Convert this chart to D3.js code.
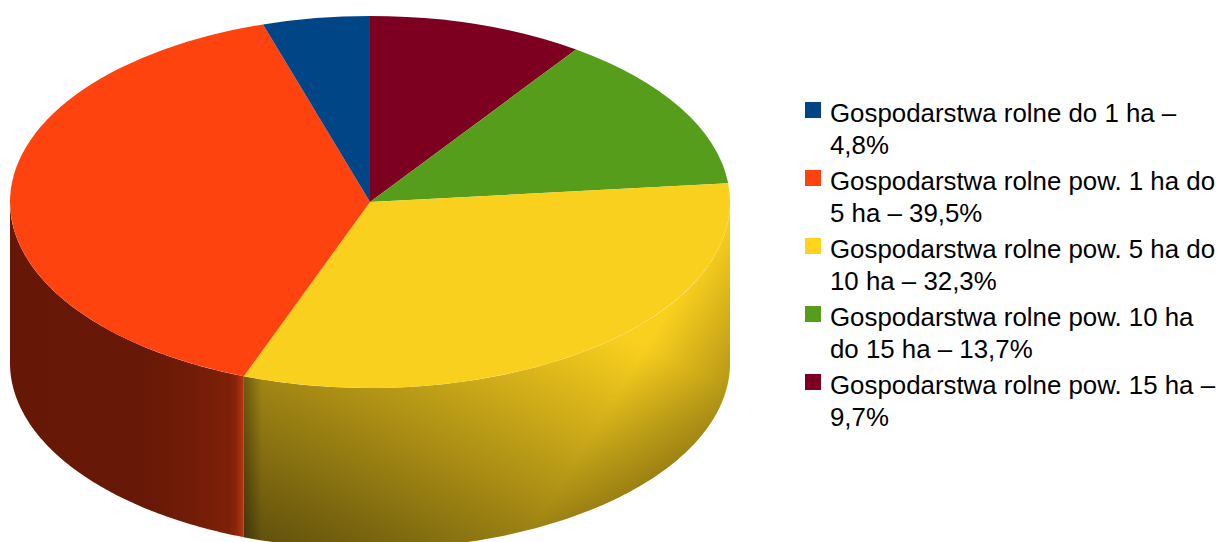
<!DOCTYPE html>
<html><head><meta charset="utf-8">
<script src="https://cdn.jsdelivr.net/npm/d3@7/dist/d3.min.js"></script>
<style>html,body{margin:0;padding:0;background:#fff}svg{display:block}</style></head>
<body><svg id="c" width="1218" height="542"></svg>
<script>
const categories = ["Gospodarstwa rolne do 1 ha", "Gospodarstwa rolne pow. 1 ha do 5 ha", "Gospodarstwa rolne pow. 5 ha do 10 ha", "Gospodarstwa rolne pow. 10 ha do 15 ha", "Gospodarstwa rolne pow. 15 ha"];
const shares = [4.8, 39.5, 32.3, 13.7, 9.7];
const legendLines = [
  ["Gospodarstwa rolne do 1 ha –", "4,8%"],
  ["Gospodarstwa rolne pow. 1 ha do", "5 ha – 39,5%"],
  ["Gospodarstwa rolne pow. 5 ha do", "10 ha – 32,3%"],
  ["Gospodarstwa rolne pow. 10 ha", "do 15 ha – 13,7%"],
  ["Gospodarstwa rolne pow. 15 ha –", "9,7%"]
];
const colors = ["#004586", "#ff420e", "#ffd320", "#579d1c", "#7e0021"];
const topColors = ["#004586", "#fe430f", "#fad01e", "#579d1c", "#7e0021"];

const W = 1218, H = 542, cx = 370, cy = 202, rx = 360, ry = 186, depth = 161;
const svg = d3.select("#c");
const defs = svg.append("defs");

const px = d3.scaleLinear().domain([-1, 1]).range([cx - rx, cx + rx]);
const py = d3.scaleLinear().domain([-1, 1]).range([cy - ry, cy + ry]);

const rows = categories.map((c, i) => ({c, v: shares[i], i})).reverse();
const slices = d3.pie().sort(null).value(d => d.v)(rows);

function grad(id, x1, y1, x2, y2, stops) {
  const g = defs.append("linearGradient").attr("id", id).attr("gradientUnits", "userSpaceOnUse")
    .attr("x1", x1).attr("y1", y1).attr("x2", x2).attr("y2", y2);
  stops.forEach(([o, c, a]) => g.append("stop").attr("offset", o).attr("stop-color", c).attr("stop-opacity", a === undefined ? 1 : a));
}
grad("orangeWall", 10, 0, 246, 0, [
  [0, "#671706"], [0.56, "#681807"], [0.75, "#701c07"], [0.93, "#7e2008"], [0.955, "#86240a"], [0.985, "#b63010"], [1, "#c83a14"]
]);
grad("yellowWall", 245, 540, 405, 225, [
  [0, "#5f4f0c"], [1, "#fad01e"]
]);
grad("yellowEdge", 245, 0, 730, 0, [
  [0, "#000", 0.3], [0.035, "#000", 0], [1, "#000", 0]
]);
grad("yellowDiag", 650, 340, 730, 390, [
  [0, "#000", 0], [1, "#000", 0.28]
]);

function wallPath(a0, a1) {
  const n = 120;
  const angs = d3.range(n + 1).map(k => a0 + (a1 - a0) * k / n);
  const top = angs.map(a => [px(Math.sin(a)), py(-Math.cos(a))]);
  const bot = angs.slice().reverse().map(a => [px(Math.sin(a)), py(-Math.cos(a)) + depth]);
  return d3.line()(top.concat(bot)) + "Z";
}

const wallFill = {1: "url(#orangeWall)", 2: "url(#yellowWall)"};
const walls = svg.append("g");
slices.forEach(s => {
  const a0 = Math.max(s.startAngle, Math.PI / 2), a1 = Math.min(s.endAngle, 3 * Math.PI / 2);
  if (a1 <= a0) return;
  const d = wallPath(a0, a1);
  walls.append("path").attr("d", d).attr("fill", wallFill[s.data.i] || topColors[s.data.i]);
  if (s.data.i === 2) {
    walls.append("path").attr("d", d).attr("fill", "url(#yellowEdge)");
    walls.append("path").attr("d", d).attr("fill", "url(#yellowDiag)");
  }
});

const arc = d3.arc().innerRadius(0).outerRadius(rx);
svg.append("g").attr("transform", `translate(${cx},${cy}) scale(1,${ry / rx})`)
  .selectAll("path").data(slices).join("path")
  .attr("d", arc).attr("fill", d => topColors[d.data.i]);

const blockY = d3.scaleLinear().domain([0, 4]).range([122, 394]);
const lg = svg.append("g").selectAll("g").data(legendLines).join("g")
  .attr("transform", (d, i) => `translate(0,${blockY(i)})`);
lg.append("rect").attr("x", 805).attr("y", -20).attr("width", 16).attr("height", 16)
  .attr("fill", (d, i) => colors[i]);
lg.selectAll("text").data(d => d).join("text")
  .attr("x", 830).attr("y", (d, i) => i * 32)
  .attr("font-family", "'Liberation Sans', Arial, sans-serif").attr("font-size", 25.85).attr("fill", "#000")
  .text(d => d);
</script></body></html>
